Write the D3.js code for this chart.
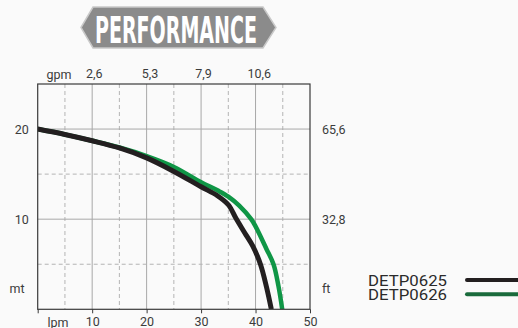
<!DOCTYPE html>
<html>
<head>
<meta charset="utf-8">
<script src="https://cdn.jsdelivr.net/npm/d3@7"></script>
<style>
  html, body { margin: 0; padding: 0; background: #fafafa; }
  svg { display: block; }
  text { font-family: Roboto, "Open Sans", sans-serif; }
</style>
</head>
<body>
<svg id="chart" width="518" height="328"></svg>
<script>
// ---- data ----
const title = "PERFORMANCE";
const seriesNames = ["DETP0625", "DETP0626"];
const flowLpm0625 = [0, 5, 10, 15, 20, 25, 30, 33, 35, 36.4, 38, 39.5, 40.9, 42.0, 42.9];
const headM0625   = [20, 19.4, 18.7, 17.9, 16.8, 15.3, 13.6, 12.6, 11.6, 10.1, 8.5, 7.0, 5.0, 2.5, 0];
const flowLpm0626 = [0, 5, 10, 15, 20, 25, 30, 33, 35, 37, 39.2, 40, 42.0, 43.3, 44.2, 44.9];
const headM0626   = [20, 19.4, 18.7, 17.95, 17.0, 15.8, 14.1, 13.2, 12.5, 11.5, 10.0, 9.2, 6.7, 5.0, 2.6, 0];
const lpmTicks = [0, 10, 20, 30, 40, 50];
const lpmDashed = [5, 15, 25, 35, 45];
const gpmTicks = [2.6, 5.3, 7.9, 10.6];
const mTicks = [10, 20];
const mDashed = [5, 15];
const ftTicks = [32.8, 65.6];
const unitLabels = { lpm: "lpm", gpm: "gpm", m: "mt", ft: "ft" };
const colors = ["#231f20", "#0f9646"];
const legendColors = ["#231f20", "#1a6b3c"];

// ---- layout ----
const svg = d3.select("#chart");
const L = 37.7, R = 310, T = 84, B = 309.3;
const x = d3.scaleLinear().domain([0, 50]).range([L, R]);
const y = d3.scaleLinear().domain([0, 25]).range([B, T]);
const xg = d3.scaleLinear().domain([0, 50 / 3.785]).range([L, R]);
const yft = d3.scaleLinear().domain([0, 25 * 3.28]).range([B, T]);
const fmtComma = d => String(d).replace(".", ",");

// banner
const bw = d3.path();
bw.moveTo(81, 27.5); bw.lineTo(93, 7); bw.lineTo(263, 7); bw.lineTo(276, 27.5);
bw.lineTo(263, 48); bw.lineTo(93, 48); bw.closePath();
svg.append("path").attr("d", bw.toString())
  .attr("fill", "#8b8b8b").attr("stroke", "#c9c9c9").attr("stroke-width", 1.5);
svg.append("text").attr("x", 95).attr("y", 43.3)
  .attr("textLength", 162).attr("lengthAdjust", "spacingAndGlyphs")
  .style("font-family", "'DejaVu Sans', sans-serif").style("font-weight", "bold")
  .style("font-size", "38px").attr("fill", "#fff").text(title);

// grid
const g = svg.append("g");
g.selectAll(".vs").data(lpmTicks.slice(1, -1)).join("line")
  .attr("x1", d => x(d)).attr("x2", d => x(d)).attr("y1", T).attr("y2", B)
  .attr("stroke", "#a8a8a8").attr("stroke-width", 1);
g.selectAll(".vd").data(lpmDashed).join("line")
  .attr("x1", d => x(d)).attr("x2", d => x(d)).attr("y1", T).attr("y2", B)
  .attr("stroke", "#b4b4b4").attr("stroke-width", 1).attr("stroke-dasharray", "4,3");
g.selectAll(".hs").data(mTicks).join("line")
  .attr("y1", d => y(d)).attr("y2", d => y(d)).attr("x1", L).attr("x2", R)
  .attr("stroke", "#a8a8a8").attr("stroke-width", 1);
g.selectAll(".hd").data(mDashed).join("line")
  .attr("y1", d => y(d)).attr("y2", d => y(d)).attr("x1", L).attr("x2", R)
  .attr("stroke", "#b4b4b4").attr("stroke-width", 1).attr("stroke-dasharray", "4,3");

// curves
svg.append("clipPath").attr("id", "clip").append("rect")
  .attr("x", L).attr("y", T).attr("width", R - L).attr("height", B - T);
const line = d3.line().x(d => x(d[0])).y(d => y(d[1])).curve(d3.curveCatmullRom.alpha(0.5));
const series = [
  { pts: d3.zip(flowLpm0626, headM0626), color: colors[1], w: 4.5 },
  { pts: d3.zip(flowLpm0625, headM0625), color: colors[0], w: 5 }
];
svg.append("g").attr("clip-path", "url(#clip)").selectAll("path").data(series).join("path")
  .attr("d", d => line(d.pts)).attr("fill", "none")
  .attr("stroke", d => d.color).attr("stroke-width", d => d.w)
  .attr("stroke-linejoin", "round");

// frame
svg.append("rect").attr("x", L).attr("y", T).attr("width", R - L).attr("height", B - T)
  .attr("fill", "none").attr("stroke", "#3a3a3a").attr("stroke-width", 1.2);

// axes
const textColor = "#3c3c3c";
function styleAxis(sel) {
  sel.select(".domain").remove();
  sel.selectAll("text").attr("fill", textColor).style("font-family", "Roboto, sans-serif");
  sel.selectAll("line").attr("stroke", "#3a3a3a");
}
const ax = svg.append("g").attr("transform", `translate(0,${B})`)
  .call(d3.axisBottom(x).tickValues(lpmTicks).tickSize(4).tickPadding(4)
    .tickFormat(d => d === 0 ? "" : d));
styleAxis(ax);
ax.selectAll("text").style("font-size", "12.5px");
svg.append("text").attr("x", 58).attr("y", 327.3).attr("text-anchor", "middle")
  .attr("fill", textColor).style("font-size", "12.5px").text(unitLabels.lpm);

const axt = svg.append("g").attr("transform", `translate(2.5,${T})`)
  .call(d3.axisTop(xg).tickValues(gpmTicks).tickSize(0).tickPadding(6).tickFormat(fmtComma));
styleAxis(axt);
axt.selectAll("text").style("font-size", "12.5px");
svg.append("text").attr("x", 59).attr("y", 78.5).attr("text-anchor", "middle")
  .attr("fill", textColor).style("font-size", "12.5px").text(unitLabels.gpm);

const axl = svg.append("g").attr("transform", `translate(${L},0)`)
  .call(d3.axisLeft(y).tickValues(mTicks).tickSize(0).tickPadding(9));
styleAxis(axl);
axl.selectAll("text").style("font-size", "12.5px");
svg.append("text").attr("x", 17).attr("y", 292.5).attr("text-anchor", "middle")
  .attr("fill", textColor).style("font-size", "12.5px").text(unitLabels.m);

const axr = svg.append("g").attr("transform", `translate(${R},0)`)
  .call(d3.axisRight(yft).tickValues(ftTicks).tickSize(0).tickPadding(12).tickFormat(fmtComma));
styleAxis(axr);
axr.selectAll("text").style("font-size", "12.5px");
svg.append("text").attr("x", 322).attr("y", 292.5)
  .attr("fill", textColor).style("font-size", "12.5px").text(unitLabels.ft);

// legend
const leg = svg.append("g");
const legY = [285.7, 300];
const legLineY = [280, 294.3];
leg.selectAll("text").data(seriesNames).join("text")
  .attr("x", 368).attr("y", (d, i) => legY[i])
  .attr("textLength", 79).attr("lengthAdjust", "spacingAndGlyphs")
  .attr("fill", "#2a2a2a").style("font-size", "15.5px").text(d => d);
leg.selectAll("line").data(seriesNames).join("line")
  .attr("x1", 467).attr("x2", 520).attr("y1", (d, i) => legLineY[i]).attr("y2", (d, i) => legLineY[i])
  .attr("stroke", (d, i) => legendColors[i]).attr("stroke-width", 4).attr("stroke-linecap", "round");
</script>
</body>
</html>
